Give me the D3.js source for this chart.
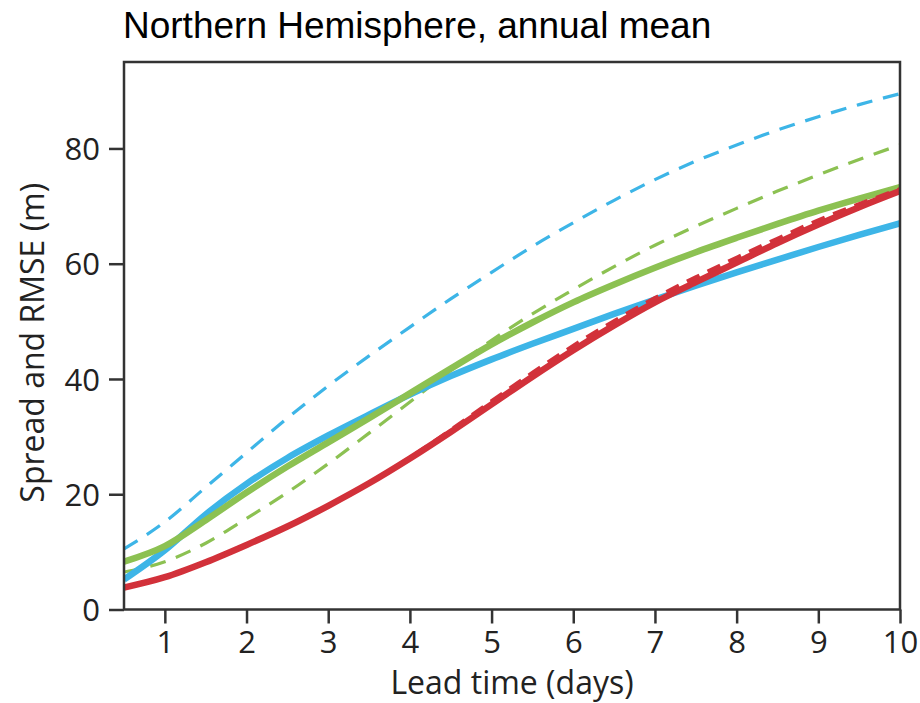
<!DOCTYPE html>
<html><head><meta charset="utf-8">
<script src="https://cdn.jsdelivr.net/npm/d3@7"></script>
<style>body{margin:0;background:#fff}svg{display:block}</style>
</head><body>
<script>
const days = [0.5,1,1.5,2,2.5,3,3.5,4,4.5,5,5.5,6,6.5,7,7.5,8,8.5,9,9.5,10];
const blueSpread = [10.5,15.2,21.2,27.2,33.2,38.8,44.0,49.0,53.9,58.5,63.0,67.1,71.0,74.6,77.8,80.6,83.2,85.5,87.6,89.5];
const blueRmse   = [5.2,10.3,16.5,21.8,26.3,30.2,33.8,37.3,40.5,43.4,46.1,48.7,51.3,53.8,56.2,58.5,60.7,62.9,65.0,67.0];
const greenSpread= [6.5,8.3,11.5,15.8,20.3,25.3,30.6,36.0,41.5,46.7,51.3,55.5,59.5,63.2,66.5,69.6,72.6,75.4,78.1,80.6];
const greenRmse  = [8.3,11.0,15.5,20.3,24.8,29.0,33.2,37.5,41.8,46.0,49.8,53.3,56.4,59.3,62.0,64.5,66.9,69.2,71.3,73.3];
const redRmse    = [3.8,5.6,8.2,11.2,14.4,18.0,21.9,26.2,30.8,35.6,40.4,45.0,49.3,53.3,56.8,60.2,63.6,66.8,69.8,72.6];
const redSpread  = [3.8,5.6,8.2,11.2,14.4,18.0,21.9,26.3,31.1,36.1,41.0,45.7,50.0,54.0,57.6,61.0,64.3,67.5,70.3,72.9];
const xTicks = [1,2,3,4,5,6,7,8,9,10];
const yTicks = [0,20,40,60,80];
const title = "Northern Hemisphere, annual mean";
const xLabel = "Lead time (days)";
const yLabel = "Spread and RMSE (m)";

const W = 920, H = 703;
const m = {left:124, right:20, top:62, bottom:94};
const svg = d3.select("body").append("svg").attr("width",W).attr("height",H);
const x = d3.scaleLinear().domain([0.5,10]).range([m.left, W-m.right]);
const y = d3.scaleLinear().domain([0,95]).range([H-m.bottom+0.5, m.top]);

const BLUE="#3db5e7", GREEN="#8cc152", RED="#d2313a";
const series = [
  {v:greenSpread, c:GREEN, w:3.2, dash:"16,11"},
  {v:blueSpread,  c:BLUE,  w:3.2, dash:"16,11"},
  {v:blueRmse,    c:BLUE,  w:6.5},
  {v:greenRmse,   c:GREEN, w:6.5},
  {v:redRmse,     c:RED,   w:6.5},
  {v:redSpread,   c:RED,   w:4.5, dash:"14,9"}
];
const line = d3.line().x((d,i)=>x(days[i])).y(d=>y(d)).curve(d3.curveMonotoneX);
svg.append("clipPath").attr("id","c").append("rect")
  .attr("x",x(0.5)).attr("y",y(95)).attr("width",x(10)-x(0.5)).attr("height",y(0)-y(95));
const g = svg.append("g").attr("clip-path","url(#c)");
series.forEach(s=>{
  g.append("path").datum(s.v).attr("d",line).attr("fill","none")
   .attr("stroke",s.c).attr("stroke-width",s.w)
   .attr("stroke-dasharray",s.dash||null).attr("stroke-linecap","butt").attr("stroke-linejoin","round");
});

const AX="#333";
const fontT = "'Open Sans', sans-serif";
svg.append("rect").attr("x",x(0.5)).attr("y",y(95)).attr("width",x(10)-x(0.5)).attr("height",y(0)-y(95))
  .attr("fill","none").attr("stroke",AX).attr("stroke-width",2.5);

const xAxis = svg.append("g").attr("transform",`translate(0,${y(0)})`)
  .call(d3.axisBottom(x).tickValues(xTicks).tickSize(14).tickPadding(7).tickFormat(d3.format("d")));
const yAxis = svg.append("g").attr("transform",`translate(${x(0.5)},0)`)
  .call(d3.axisLeft(y).tickValues(yTicks).tickSize(15).tickPadding(9).tickFormat(d3.format("d")));
[xAxis,yAxis].forEach(a=>{
  a.select(".domain").remove();
  a.selectAll(".tick line").attr("stroke",AX).attr("stroke-width",2.5);
  a.selectAll(".tick text").attr("fill","#222").style("font-family",fontT).style("font-size","31px");
});
yAxis.selectAll(".tick text").attr("dy","0.36em");

svg.append("text").attr("x",(x(0.5)+x(10))/2).attr("y",694).attr("text-anchor","middle")
  .style("font-family",fontT).style("font-size","32px").attr("fill","#222").text(xLabel);
svg.append("text").attr("transform",`translate(44,${(y(0)+y(95))/2+7}) rotate(-90)`).attr("text-anchor","middle")
  .style("font-family",fontT).style("font-size","32px").attr("fill","#222").text(yLabel);
svg.append("text").attr("x",123).attr("y",38)
  .style("font-family","'Liberation Sans', Arial, sans-serif").style("font-size","37px").attr("fill","#000").text(title);
</script>
</body></html>
